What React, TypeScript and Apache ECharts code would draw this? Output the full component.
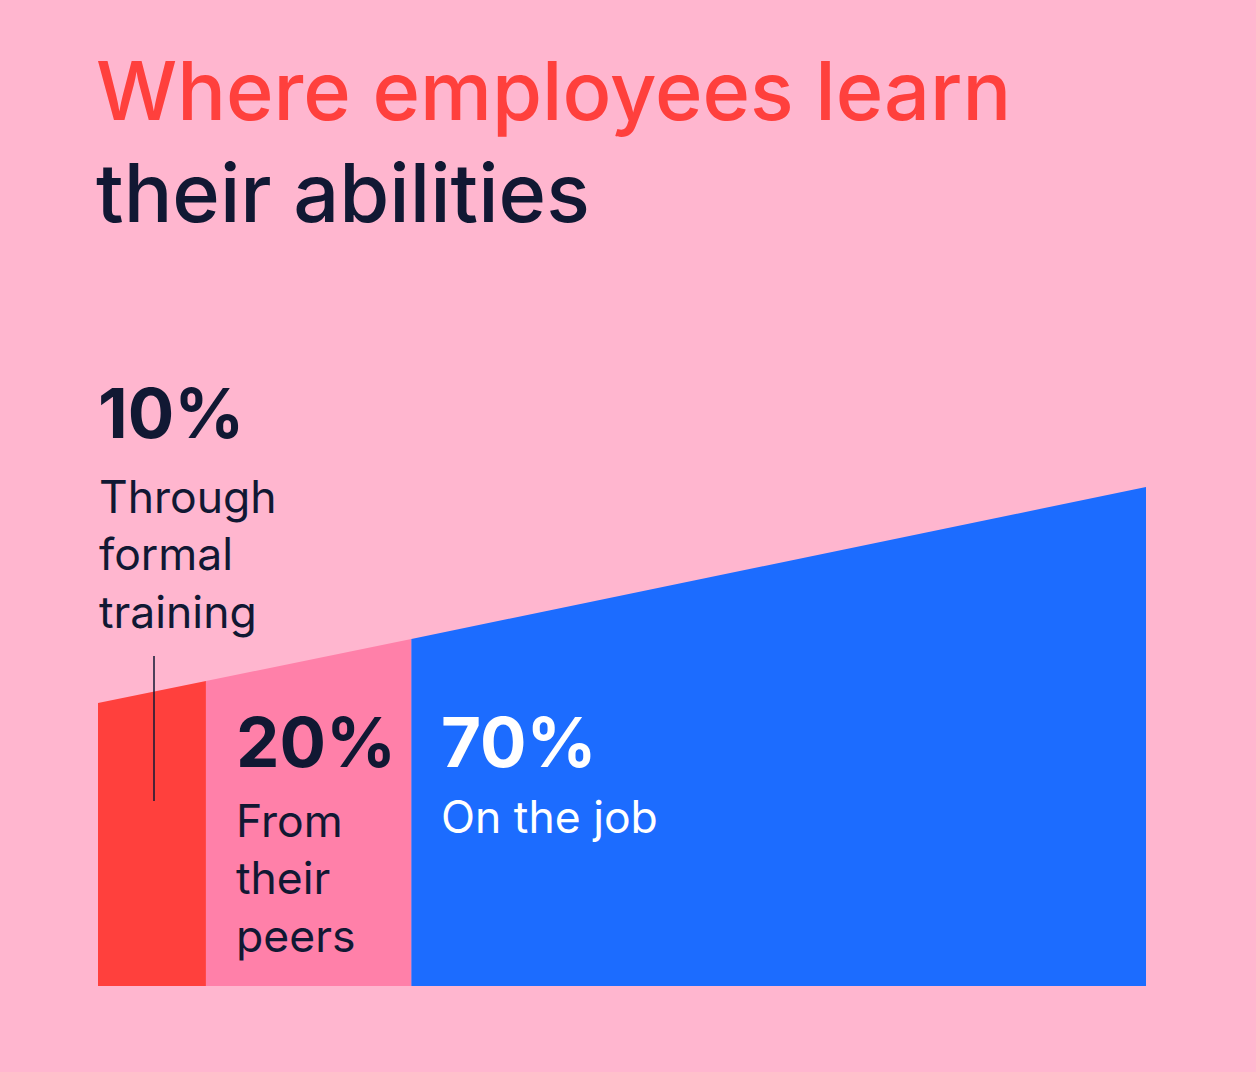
import { useEffect, useRef } from "react";
import * as echarts from "echarts";

// ---- data ----
const titleLines = ["Where employees learn", "their abilities"];
const shares = [10, 20, 70];
const segmentLabels = [["Through", "formal", "training"], ["From", "their", "peers"], ["On the job"]];
// cumulative horizontal position (in % of width) of each segment boundary
const boundaries = [0, 10.3, 29.9, 100];
// height of the top edge at each boundary (axis units)
const heights = [283, 305, 347, 499];

const BG = "#FFB6CF";
const SEG_COLORS = ["#FF403D", "#FF80A9", "#1C6CFF"];
const NAVY = "#111833";
const TITLE_RED = "#FF403D";
const FONT = "Inter, 'Noto Sans', sans-serif";

export default function App() {
  const ref = useRef<HTMLDivElement>(null);
  useEffect(() => {
    document.body.style.margin = "0";
    if (!ref.current) return;
    const chart = echarts.init(ref.current, null, { renderer: "svg" });

    const series = shares.map((s, i) => ({
      type: "line",
      name: segmentLabels[i].join(" "),
      data: [
        [boundaries[i], heights[i]],
        [boundaries[i + 1], heights[i + 1]],
      ],
      showSymbol: false,
      symbol: "none",
      silent: true,
      lineStyle: { width: 0, color: SEG_COLORS[i] },
      itemStyle: { color: SEG_COLORS[i] },
      areaStyle: { color: SEG_COLORS[i], opacity: 1 },
      z: 2,
    }));

    const pctX = [98, 236, 441];
    const pctBase = [438, 767, 767];
    const lineX = [99, 236, 441];
    const lineBase = [[513, 570, 628], [837, 894, 952], [833]];
    const textColors = [NAVY, NAVY, "#FFFFFF"];

    const graphics: any[] = [];
    titleLines.forEach((t, i) => {
      graphics.push({
        type: "text",
        x: 96,
        y: [91, 193][i],
        style: {
          text: t,
          font: `500 81px ${FONT}`,
          fill: i === 0 ? TITLE_RED : NAVY,
          verticalAlign: "middle",
          align: "left",
        },
      });
    });
    shares.forEach((s, i) => {
      graphics.push({
        type: "text",
        x: pctX[i],
        y: pctBase[i] - 25,
        z: 10,
        style: {
          text: `${s}%`,
          font: `700 69px ${FONT}`,
          fill: textColors[i],
          verticalAlign: "middle",
          align: "left",
        },
      });
      segmentLabels[i].forEach((ln, j) => {
        graphics.push({
          type: "text",
          x: lineX[i],
          y: lineBase[i][j] - 16,
          z: 10,
          style: {
            text: ln,
            font: `400 44.5px ${FONT}`,
            fill: textColors[i],
            verticalAlign: "middle",
            align: "left",
          },
        });
      });
    });
    graphics.push({
      type: "line",
      z: 10,
      shape: { x1: 154, y1: 656, x2: 154, y2: 801 },
      style: { stroke: NAVY, lineWidth: 1.5 },
    });

    chart.setOption({
      animation: false,
      backgroundColor: BG,
      grid: { left: 98, right: 110, top: 487, bottom: 86 },
      xAxis: { type: "value", min: 0, max: 100, show: false },
      yAxis: { type: "value", min: 0, max: 499, show: false },
      series,
      graphic: graphics,
    });
    return () => chart.dispose();
  }, []);
  return <div ref={ref} style={{ width: 1256, height: 1072, background: BG }} />;
}
